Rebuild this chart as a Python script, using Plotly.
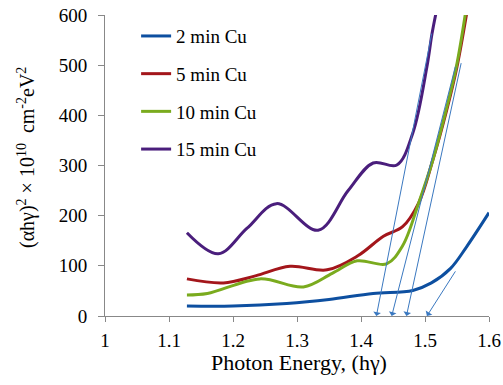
import plotly.graph_objects as go

# Data
x_2min = [1.128, 1.2, 1.284, 1.35, 1.419, 1.481, 1.51, 1.54, 1.565, 1.6]
y_2min = [20, 20, 25, 33, 45, 51, 66, 95, 138, 206]

x_5min = [1.128, 1.185, 1.235, 1.289, 1.347, 1.395, 1.435, 1.465, 1.49, 1.512, 1.534, 1.55, 1.566]
y_5min = [74, 66, 80, 99, 92, 120, 159, 178, 225, 310, 411, 497, 610]

x_10min = [1.128, 1.16, 1.242, 1.31, 1.355, 1.394, 1.44, 1.465, 1.49, 1.512, 1.533, 1.549, 1.564]
y_10min = [42, 45, 74, 58, 85, 110, 104, 140, 225, 310, 411, 497, 610]

x_15min = [1.128, 1.177, 1.222, 1.268, 1.333, 1.38, 1.419, 1.456, 1.481, 1.503, 1.511, 1.519]
y_15min = [166, 124, 175, 224, 171, 250, 305, 301, 365, 497, 563, 615]

# Tangent arrows: start (on curve) -> tip (on x axis)
arrow_tip_x = [1.424, 1.448, 1.471, 1.503]
arrow_start_x = [1.511, 1.548, 1.557, 1.549]
arrow_start_y = [566, 500, 507, 92]

x_ticks = [1, 1.1, 1.2, 1.3, 1.4, 1.5, 1.6]
x_tick_labels = ["1", "1.1", "1.2", "1.3", "1.4", "1.5", "1.6"]

x_title = "Photon Energy, (hγ)"
y_title = "(αhγ)<sup>2</sup> × 10<sup>10</sup>  cm<sup>-2</sup>eV<sup>2</sup>"

series = [
    ("2 min Cu", x_2min, y_2min, "#0D4FA0"),
    ("5 min Cu", x_5min, y_5min, "#A3161B"),
    ("10 min Cu", x_10min, y_10min, "#7AAB1E"),
    ("15 min Cu", x_15min, y_15min, "#4A1E7C"),
]

fig = go.Figure()
for i, (name, xs, ys, col) in enumerate(series):
    fig.add_trace(go.Scatter(
        x=xs, y=ys, mode="lines", name=name, legendgroup=f"g{i}",
        line=dict(color=col, width=3, shape="spline", smoothing=1.0),
    ))

for tx, sx, sy in zip(arrow_tip_x, arrow_start_x, arrow_start_y):
    fig.add_annotation(
        x=tx, y=0, ax=sx, ay=sy, xref="x", yref="y", axref="x", ayref="y",
        showarrow=True, arrowhead=1, arrowsize=1.3, arrowwidth=1,
        arrowcolor="#3A78C0", text="",
    )

serif = "'Liberation Serif', 'Times New Roman', serif"

# Axis titles as paper-positioned text
fig.add_annotation(text=x_title, xref="paper", yref="paper", x=0.504, y=-0.154,
                   xanchor="center", yanchor="middle", showarrow=False,
                   font=dict(family=serif, size=22, color="black"))
fig.add_annotation(text=y_title, xref="paper", yref="paper", x=-0.203, y=0.525,
                   xanchor="center", yanchor="middle", showarrow=False, textangle=-90,
                   font=dict(family=serif, size=20, color="black"))

fig.update_layout(
    width=503, height=385,
    margin=dict(l=105, r=14, t=15, b=68.5, autoexpand=False),
    paper_bgcolor="white", plot_bgcolor="white",
    font=dict(family=serif, size=16, color="black"),
    showlegend=True,
    legend=dict(
        x=0.081, y=0.993, xanchor="left", yanchor="top",
        font=dict(family=serif, size=19, color="black"),
        bgcolor="rgba(0,0,0,0)", traceorder="grouped", tracegroupgap=10,
    ),
    xaxis=dict(
        range=[1, 1.6], tickmode="array", tickvals=x_ticks, ticktext=x_tick_labels,
        showgrid=False, zeroline=False, automargin=False,
        showline=True, linecolor="#888888", linewidth=1,
        ticks="outside", ticklen=5, tickcolor="#888888",
        tickfont=dict(family=serif, size=19, color="black"),
        ticklabelstandoff=2,
    ),
    yaxis=dict(
        range=[0, 600], dtick=100, showgrid=False, zeroline=False, automargin=False,
        showline=True, linecolor="#888888", linewidth=1,
        ticks="outside", ticklen=6, tickcolor="#888888",
        tickfont=dict(family=serif, size=19, color="black"),
        ticklabelstandoff=7,
    ),
)

fig.write_html("out.html")
